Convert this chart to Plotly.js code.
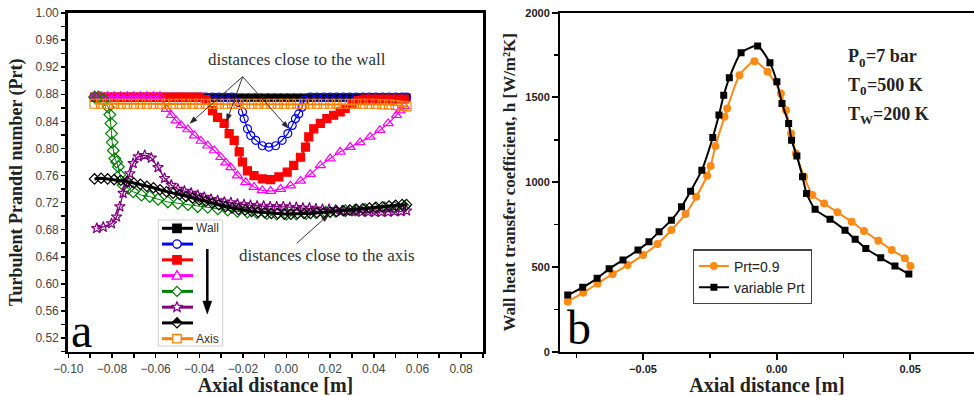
<!DOCTYPE html>
<html>
<head>
<meta charset="utf-8">
<script src="https://cdn.plot.ly/plotly-3.0.1.min.js"></script>
<style>
html,body{margin:0;padding:0;background:#fff;}
#chart{width:974px;height:396px;}
</style>
</head>
<body>
<div id="chart"></div>
<script>
// ---------- Panel a : turbulent Prandtl number ----------
const X_GRID = [-0.088,-0.085,-0.082,-0.079,-0.076,-0.073,-0.070,-0.067,-0.064,-0.061,-0.058,-0.055,-0.052,-0.049,-0.046,-0.043,-0.040,-0.037,-0.034,-0.031,-0.028,-0.025,-0.022,-0.019,-0.016,-0.013,-0.010,-0.007,-0.004,-0.001,0.002,0.005,0.008,0.011,0.014,0.017,0.020,0.023,0.026,0.029,0.032,0.035,0.038,0.041,0.044,0.047,0.050,0.053,0.055];

const wallY = [0.875,0.875,0.875,0.875,0.875,0.875,0.875,0.875,0.875,0.875,0.875,0.875,0.875,0.875,0.875,0.875,0.875,0.875,0.875,0.875,0.875,0.875,0.875,0.875,0.875,0.875,0.875,0.875,0.875,0.875,0.875,0.875,0.875,0.875,0.875,0.875,0.875,0.875,0.875,0.875,0.875,0.875,0.875,0.875,0.875,0.875,0.875,0.875,0.875];

const blueX = [-0.088,-0.085,-0.082,-0.079,-0.076,-0.073,-0.070,-0.067,-0.064,-0.061,-0.058,-0.055,-0.052,-0.049,-0.046,-0.043,-0.040,-0.037,-0.034,-0.031,-0.028,-0.025,-0.022,-0.0202,-0.0194,-0.0179,-0.0164,-0.0141,-0.0111,-0.0081,-0.0050,-0.0020,0.0006,0.0026,0.0041,0.0056,0.0071,0.0082,0.011,0.014,0.017,0.020,0.023,0.026,0.029,0.032,0.035,0.038,0.041,0.044,0.047,0.050,0.053,0.055];
const blueY = [0.876,0.876,0.876,0.876,0.876,0.876,0.876,0.876,0.876,0.876,0.876,0.876,0.876,0.876,0.876,0.876,0.876,0.876,0.876,0.876,0.876,0.876,0.868,0.854,0.844,0.829,0.819,0.812,0.804,0.802,0.804,0.812,0.822,0.834,0.844,0.851,0.861,0.871,0.876,0.876,0.876,0.876,0.876,0.876,0.876,0.876,0.876,0.876,0.876,0.876,0.876,0.876,0.876,0.876];

const redX = [-0.088,-0.085,-0.082,-0.079,-0.076,-0.073,-0.070,-0.067,-0.064,-0.061,-0.058,-0.055,-0.052,-0.049,-0.046,-0.043,-0.040,-0.037,-0.0339,-0.0316,-0.0286,-0.0263,-0.0240,-0.0217,-0.0202,-0.0179,-0.0149,-0.0111,-0.0073,-0.0035,0.0003,0.0033,0.0064,0.0087,0.0102,0.0125,0.0155,0.0185,0.0216,0.0246,0.0269,0.030,0.033,0.036,0.039,0.042,0.045,0.048,0.051,0.054];
const redY = [0.876,0.876,0.876,0.876,0.876,0.876,0.876,0.876,0.876,0.876,0.876,0.876,0.876,0.876,0.876,0.876,0.876,0.872,0.856,0.846,0.837,0.822,0.812,0.795,0.780,0.767,0.760,0.755,0.754,0.758,0.765,0.775,0.787,0.802,0.817,0.829,0.837,0.844,0.849,0.854,0.859,0.866,0.871,0.873,0.873,0.873,0.873,0.873,0.873,0.873];

const magX = [-0.088,-0.085,-0.082,-0.079,-0.076,-0.073,-0.070,-0.067,-0.064,-0.061,-0.058,-0.0551,-0.0528,-0.0506,-0.0483,-0.0452,-0.0422,-0.0392,-0.0361,-0.0331,-0.0301,-0.0278,-0.0255,-0.0225,-0.0187,-0.0149,-0.0111,-0.0073,-0.0027,0.0018,0.0064,0.0109,0.0155,0.0200,0.0246,0.0292,0.0337,0.0383,0.0428,0.0466,0.0504,0.0520,0.0540];
const magY = [0.877,0.877,0.877,0.877,0.877,0.877,0.877,0.877,0.877,0.877,0.877,0.858,0.849,0.841,0.834,0.828,0.819,0.811,0.804,0.797,0.787,0.779,0.772,0.760,0.750,0.743,0.738,0.737,0.740,0.745,0.752,0.762,0.775,0.785,0.795,0.802,0.809,0.817,0.827,0.837,0.849,0.856,0.862];

const greenX = [-0.088,-0.0862,-0.084,-0.0817,-0.081,-0.0805,-0.0802,-0.0799,-0.0794,-0.0787,-0.0779,-0.0771,-0.0764,-0.0749,-0.0726,-0.0703,-0.0665,-0.0627,-0.0589,-0.0544,-0.0498,-0.0452,-0.0407,-0.0361,-0.0315,-0.027,-0.0225,-0.018,-0.0135,-0.009,-0.0045,0.0,0.0045,0.009,0.0135,0.018,0.0225,0.027,0.0315,0.036,0.0405,0.045,0.0495,0.054];
const greenY = [0.876,0.876,0.872,0.861,0.850,0.837,0.822,0.809,0.797,0.785,0.780,0.773,0.761,0.746,0.741,0.736,0.731,0.729,0.725,0.721,0.719,0.717,0.714,0.713,0.711,0.709,0.707,0.706,0.705,0.704,0.703,0.703,0.703,0.704,0.705,0.706,0.707,0.708,0.709,0.710,0.711,0.712,0.713,0.714];

const purpleX = [-0.087,-0.084,-0.0802,-0.0779,-0.0764,-0.0749,-0.0733,-0.0718,-0.0703,-0.068,-0.065,-0.062,-0.0589,-0.0559,-0.0528,-0.0498,-0.0468,-0.0437,-0.0407,-0.0377,-0.0346,-0.0316,-0.0285,-0.0255,-0.0225,-0.0195,-0.0165,-0.0135,-0.0105,-0.0075,-0.0045,-0.0015,0.0015,0.0045,0.0075,0.0105,0.0135,0.0165,0.0195,0.0225,0.0255,0.0285,0.0315,0.0345,0.0375,0.0405,0.0435,0.0465,0.0495,0.0525,0.0550];
const purpleY = [0.682,0.684,0.689,0.699,0.714,0.734,0.749,0.763,0.778,0.788,0.790,0.786,0.772,0.756,0.746,0.740,0.737,0.734,0.731,0.728,0.725,0.723,0.721,0.720,0.718,0.717,0.716,0.715,0.715,0.714,0.714,0.714,0.713,0.713,0.712,0.712,0.711,0.710,0.710,0.709,0.708,0.707,0.707,0.706,0.706,0.706,0.706,0.706,0.707,0.707,0.708];

const blackDY = [0.755,0.756,0.755,0.754,0.753,0.751,0.749,0.747,0.744,0.742,0.739,0.736,0.734,0.732,0.729,0.727,0.724,0.722,0.719,0.717,0.714,0.712,0.710,0.709,0.707,0.706,0.705,0.704,0.704,0.703,0.703,0.704,0.704,0.704,0.705,0.705,0.706,0.707,0.708,0.709,0.710,0.711,0.712,0.713,0.714,0.715,0.716,0.717,0.717];

const axisY = [0.866,0.866,0.866,0.866,0.866,0.866,0.866,0.866,0.866,0.866,0.866,0.866,0.866,0.866,0.866,0.866,0.866,0.866,0.866,0.866,0.866,0.866,0.866,0.866,0.866,0.866,0.866,0.866,0.866,0.866,0.866,0.866,0.866,0.866,0.866,0.866,0.866,0.866,0.866,0.866,0.866,0.866,0.866,0.866,0.865,0.865,0.864,0.863,0.862];

const legendALabels = ['Wall','','','','','','','Axis'];

// ---------- Panel b : wall heat transfer coefficient ----------
const prtX = [-0.0782,-0.0724,-0.0670,-0.0614,-0.0558,-0.0500,-0.0446,-0.0394,-0.0341,-0.0301,-0.0260,-0.0247,-0.0229,-0.0195,-0.0185,-0.0139,-0.0083,-0.0034,0.0016,0.0035,0.0054,0.0072,0.0103,0.0134,0.0178,0.0228,0.0281,0.0327,0.0381,0.0431,0.0480,0.0501];
const prtY = [295,348,403,458,511,570,635,718,812,914,1038,1095,1213,1386,1435,1631,1714,1651,1524,1425,1288,1170,1032,924,875,822,767,712,655,600,551,505];
const varX = [-0.0782,-0.0726,-0.0672,-0.0627,-0.0575,-0.0519,-0.0478,-0.0440,-0.0394,-0.0356,-0.0322,-0.0280,-0.0239,-0.0216,-0.0198,-0.0177,-0.0133,-0.0071,-0.0025,0.0001,0.0020,0.0045,0.0056,0.0076,0.0097,0.0112,0.0144,0.0200,0.0256,0.0294,0.0334,0.0390,0.0443,0.0495];
const varY = [334,380,433,489,541,600,649,707,776,855,947,1071,1264,1396,1513,1616,1764,1804,1704,1592,1465,1347,1248,1154,1032,934,840,782,717,663,609,554,505,458];

// conditions text: [symbol, subscript, rest]
const conditions = [['P', '0', '=7 bar'], ['T', '0', '=500 K'], ['T', 'W', '=200 K']];

const W = 974, H = 396;
const px = v => v / W;
const py = v => 1 - v / H;

const serif = 'Liberation Serif, DejaVu Serif, serif';
const sans = 'Liberation Sans, Arial, sans-serif';

function lineTrace(x, y, name, color, symbol, size, lw) {
  return {
    type: 'scatter', mode: 'lines+markers', x: x, y: y, name: name,
    xaxis: 'x', yaxis: 'y', showlegend: false,
    line: {color: color, width: lw},
    marker: {symbol: symbol, size: size, color: color, line: {color: color, width: 1.2}}
  };
}

const traces = [
  lineTrace(X_GRID, wallY, 'Wall', '#000000', 'square', 7, 2.5),
  lineTrace(blueX, blueY, 'Position 2', '#0000ff', 'circle-open', 8, 1.2),
  lineTrace(redX, redY, 'Position 3', '#ff0000', 'square', 8, 2),
  lineTrace(magX, magY, 'Position 4', '#ff00ff', 'triangle-up-open', 9, 1.2),
  lineTrace(greenX, greenY, 'Position 5', '#008000', 'diamond-open', 9, 1),
  lineTrace(purpleX, purpleY, 'Position 6', '#800080', 'star-open', 8, 1.3),
  lineTrace(X_GRID, blackDY, 'Position 7', '#000000', 'diamond-open', 8, 3),
  lineTrace(X_GRID, axisY, 'Axis', '#ff8000', 'square-open', 9, 2),
  {
    type: 'scatter', mode: 'lines+markers', x: prtX, y: prtY, name: 'Prt=0.9',
    xaxis: 'x2', yaxis: 'y2', legend: 'legend2',
    line: {color: '#ff8a14', width: 2, shape: 'spline', smoothing: 0.6},
    marker: {symbol: 'circle', size: 8, color: '#ff8a14'}
  },
  {
    type: 'scatter', mode: 'lines+markers', x: varX, y: varY, name: 'variable Prt',
    xaxis: 'x2', yaxis: 'y2', legend: 'legend2',
    line: {color: '#000000', width: 2, shape: 'spline', smoothing: 0.6},
    marker: {symbol: 'square', size: 7, color: '#000000'}
  }
];

// helpers for decoration shapes (pixel inputs -> paper coords)
function polyPath(pts) {
  return pts.map((p, i) => (i ? 'L' : 'M') + px(p[0]).toFixed(5) + ',' + py(p[1]).toFixed(5)).join(' ') + ' Z';
}
function arrowShapes(tx, ty, hx, hy, width, headLen, headHalf, color) {
  const dx = hx - tx, dy = hy - ty;
  const len = Math.sqrt(dx * dx + dy * dy);
  const ux = dx / len, uy = dy / len;
  const bx = hx - ux * headLen, by = hy - uy * headLen;
  const nx = -uy, ny = ux;
  return [
    {type: 'line', xref: 'paper', yref: 'paper', x0: px(tx), y0: py(ty), x1: px(bx), y1: py(by),
     line: {color: color, width: width}},
    {type: 'path', xref: 'paper', yref: 'paper',
     path: polyPath([[hx, hy], [bx + nx * headHalf, by + ny * headHalf], [bx - nx * headHalf, by - ny * headHalf]]),
     fillcolor: color, line: {color: color, width: 0.5}}
  ];
}
function markerShapes(kind, cx, cy, color) {
  const r = 4.2;
  const out = [];
  const lw = 1.3;
  if (kind === 'square' || kind === 'square-open') {
    out.push({type: 'rect', xref: 'paper', yref: 'paper', x0: px(cx - r), x1: px(cx + r), y0: py(cy + r), y1: py(cy - r),
      fillcolor: kind === 'square' ? color : '#fff', line: {color: color, width: lw}});
  } else if (kind === 'circle-open') {
    out.push({type: 'circle', xref: 'paper', yref: 'paper', x0: px(cx - r), x1: px(cx + r), y0: py(cy + r), y1: py(cy - r),
      fillcolor: '#fff', line: {color: color, width: lw}});
  } else if (kind === 'triangle-open') {
    out.push({type: 'path', xref: 'paper', yref: 'paper',
      path: polyPath([[cx, cy - r - 0.8], [cx + r + 0.6, cy + r - 0.6], [cx - r - 0.6, cy + r - 0.6]]),
      fillcolor: '#fff', line: {color: color, width: lw}});
  } else if (kind === 'diamond-open' || kind === 'diamond-half') {
    out.push({type: 'path', xref: 'paper', yref: 'paper',
      path: polyPath([[cx, cy - r - 0.8], [cx + r + 0.8, cy], [cx, cy + r + 0.8], [cx - r - 0.8, cy]]),
      fillcolor: '#fff', line: {color: color, width: lw}});
    if (kind === 'diamond-half') {
      out.push({type: 'path', xref: 'paper', yref: 'paper',
        path: polyPath([[cx, cy - r - 0.8], [cx + r + 0.8, cy], [cx - r - 0.8, cy]]),
        fillcolor: color, line: {color: color, width: lw}});
    }
  } else if (kind === 'star-open') {
    const pts = [];
    for (let k = 0; k < 10; k++) {
      const a = -Math.PI / 2 + k * Math.PI / 5;
      const rr = k % 2 === 0 ? r + 1 : (r + 1) * 0.45;
      pts.push([cx + rr * Math.cos(a), cy + rr * Math.sin(a)]);
    }
    out.push({type: 'path', xref: 'paper', yref: 'paper', path: polyPath(pts),
      fillcolor: '#fff', line: {color: color, width: lw}});
  }
  return out;
}

// manual legend for panel a
const legendAStyle = [
  {c: '#000000', m: 'square'}, {c: '#0000ff', m: 'circle-open'}, {c: '#ff0000', m: 'square'},
  {c: '#ff00ff', m: 'triangle-open'}, {c: '#008000', m: 'diamond-open'}, {c: '#800080', m: 'star-open'},
  {c: '#000000', m: 'diamond-half'}, {c: '#ff8000', m: 'square-open'}
];
let shapes = [
  {type: 'rect', xref: 'paper', yref: 'paper', x0: px(158.3), x1: px(222.7), y0: py(346), y1: py(220),
   line: {color: '#d0d0d0', width: 1}, fillcolor: '#ffffff'}
];
const annotations = [];
legendAStyle.forEach((s, i) => {
  const yy = 228.3 + i * 15.77;
  shapes.push({type: 'line', xref: 'paper', yref: 'paper', x0: px(162), x1: px(193), y0: py(yy), y1: py(yy), line: {color: s.c, width: 3}});
  shapes = shapes.concat(markerShapes(s.m, 177, yy, s.c));
  if (legendALabels[i]) {
    annotations.push({xref: 'paper', yref: 'paper', x: px(194), y: py(yy), text: legendALabels[i], showarrow: false,
      xanchor: 'left', yanchor: 'middle', font: {family: sans, size: 12, color: '#333'}});
  }
});
// down arrow in legend
shapes = shapes.concat(arrowShapes(207.3, 249, 207.3, 314, 2.5, 13, 4.5, '#000'));

// "distances close to the wall"
annotations.push({xref: 'paper', yref: 'paper', x: px(296.7), y: py(59), text: 'distances close to the wall',
  showarrow: false, xanchor: 'center', yanchor: 'middle', font: {family: serif, size: 17, color: '#333'}});
[[190, 123.3], [226.7, 121], [288.3, 128.3]].forEach(h => {
  shapes = shapes.concat(arrowShapes(242.7, 76.7, h[0], h[1], 0.9, 7, 2.5, '#222'));
});
// "distances close to the axis"
annotations.push({xref: 'paper', yref: 'paper', x: px(236.7), y: py(255), text: 'distances close to the axis',
  showarrow: false, xanchor: 'left', yanchor: 'middle', font: {family: serif, size: 17, color: '#333'}});
shapes = shapes.concat(arrowShapes(296.7, 243.3, 328.3, 215, 0.9, 7, 2.5, '#222'));

// panel letters
annotations.push({xref: 'paper', yref: 'paper', x: px(81), y: py(330), text: 'a', showarrow: false,
  xanchor: 'center', yanchor: 'middle', font: {family: serif, size: 48, color: '#000'}});
annotations.push({xref: 'paper', yref: 'paper', x: px(579), y: py(327), text: 'b', showarrow: false,
  xanchor: 'center', yanchor: 'middle', font: {family: serif, size: 48, color: '#000'}});

// conditions (main symbol, subscript, remainder as separate texts)
const mainW = {P: 11.0, T: 12.0};
const subW = {'0': 6.8, W: 13.2};
conditions.forEach((c, i) => {
  const cy = 56 + i * 29;
  const x0 = 846;
  const x1 = x0 + mainW[c[0]];
  const x2 = x1 + subW[c[1]];
  annotations.push({xref: 'paper', yref: 'paper', x: px(x0), y: py(cy), text: '<b>' + c[0] + '</b>',
    showarrow: false, xanchor: 'left', yanchor: 'middle', font: {family: serif, size: 18, color: '#222'}});
  annotations.push({xref: 'paper', yref: 'paper', x: px(x1), y: py(cy + 6), text: '<b>' + c[1] + '</b>',
    showarrow: false, xanchor: 'left', yanchor: 'middle', font: {family: serif, size: 13, color: '#222'}});
  annotations.push({xref: 'paper', yref: 'paper', x: px(x2), y: py(cy), text: '<b>' + c[2] + '</b>',
    showarrow: false, xanchor: 'left', yanchor: 'middle', font: {family: serif, size: 18, color: '#222'}});
});

const axisCommonA = {
  showline: true, linecolor: '#000', linewidth: 2.5, mirror: true,
  ticks: 'outside', ticklen: 4, tickwidth: 1.5, tickcolor: '#000',
  showgrid: false, zeroline: false,
  tickfont: {family: sans, size: 12, color: '#444'}
};

const layout = {
  width: W, height: H,
  margin: {l: 0, r: 0, t: 0, b: 0},
  paper_bgcolor: '#fff', plot_bgcolor: '#fff',
  showlegend: true,
  xaxis: Object.assign({}, axisCommonA, {
    domain: [px(67.7), px(483.3)], range: [-0.1003, 0.0902], anchor: 'y',
    tick0: 0, dtick: 0.02, tickformat: '.2f',
    minor: {dtick: 0.01, ticks: 'outside', ticklen: 4, tickwidth: 1.5, tickcolor: '#000'},
    title: {text: '<b>Axial distance [m]</b>', font: {family: serif, size: 20, color: '#222'}, standoff: 2}
  }),
  yaxis: Object.assign({}, axisCommonA, {
    domain: [1 - 351.7 / H, 1 - 12.7 / H], range: [0.4998, 1.0005], anchor: 'x',
    tick0: 0.52, dtick: 0.04, tickformat: '.2f',
    minor: {dtick: 0.02, ticks: 'outside', ticklen: 4, tickwidth: 1.5, tickcolor: '#000'},
    title: {text: '<b>Turbulent Prandtl number (Prt)</b>', font: {family: serif, size: 18, color: '#222'}, standoff: 8}
  }),
  xaxis2: {
    domain: [px(560), 1], range: [-0.0811, 0.0739], anchor: 'y2',
    showline: true, linecolor: '#000', linewidth: 2, mirror: true,
    ticks: 'outside', ticklen: 6, tickwidth: 2, tickcolor: '#000',
    tick0: 0, dtick: 0.05, tickformat: '.2f',
    minor: {dtick: 0.025, ticks: 'outside', ticklen: 4, tickwidth: 1.5, tickcolor: '#000'},
    showgrid: false, zeroline: false,
    tickfont: {family: sans, size: 11, color: '#222', weight: 'bold'},
    title: {text: '<b>Axial distance [m]</b>', font: {family: serif, size: 20, color: '#222'}, standoff: 4}
  },
  yaxis2: {
    domain: [1 - 351.7 / H, 1 - 12.7 / H], range: [0, 2000], anchor: 'x2',
    showline: true, linecolor: '#000', linewidth: 2,
    ticks: 'outside', ticklen: 6, tickwidth: 2, tickcolor: '#000',
    tick0: 0, dtick: 500,
    minor: {dtick: 250, ticks: 'outside', ticklen: 4, tickwidth: 1.5, tickcolor: '#000'},
    showgrid: false, zeroline: false,
    tickfont: {family: sans, size: 11, color: '#222', weight: 'bold'},
    title: {text: '<b>Wall heat transfer coefficient, h [W/m²K]</b>', font: {family: serif, size: 17, color: '#222'}, standoff: 5}
  },
  legend2: {
    x: px(692.7), y: py(249.3), xanchor: 'left', yanchor: 'top',
    bgcolor: '#fff', bordercolor: '#444', borderwidth: 1.2,
    font: {family: sans, size: 14, color: '#222'}, tracegroupgap: 0
  },
  shapes: shapes,
  annotations: annotations
};

Plotly.newPlot('chart', traces, layout, {displayModeBar: false, staticPlot: true});
</script>
</body>
</html>
